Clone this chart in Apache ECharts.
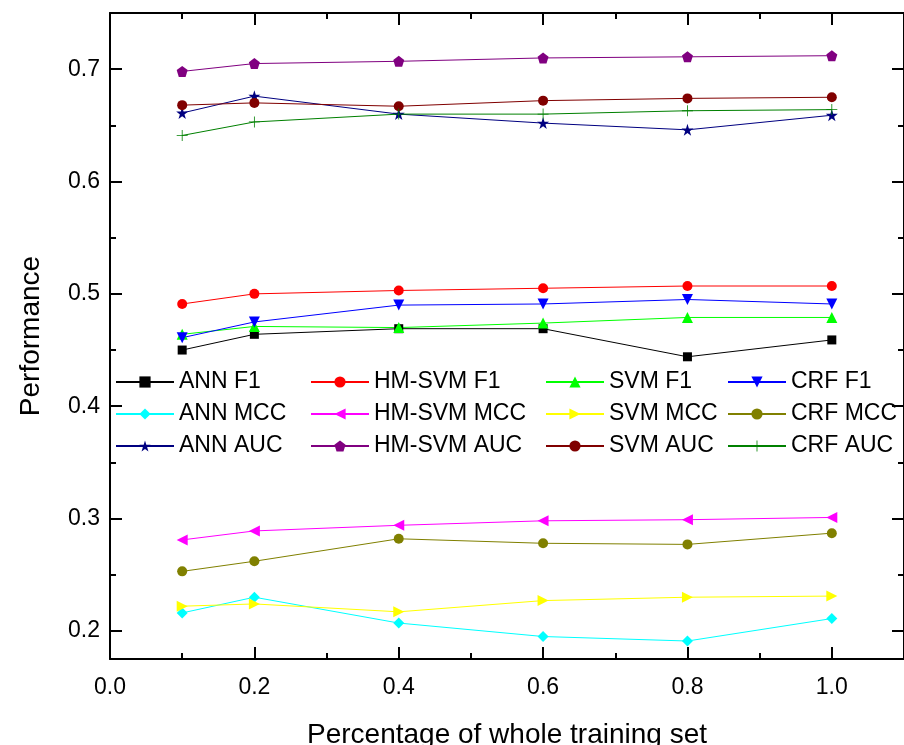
<!DOCTYPE html>
<html>
<head>
<meta charset="utf-8">
<script src="https://cdn.jsdelivr.net/npm/echarts@6/dist/echarts.min.js"></script>
<style>
html, body { margin: 0; padding: 0; background: #fff; }
#chart { width: 904px; height: 745px; }
</style>
</head>
<body>
<div id="chart"></div>
<script>
'use strict';

// fraction of the training set used (x)
var fractions = [0.1, 0.2, 0.4, 0.6, 0.8, 1.0];

// F1
var annF1 = [0.450, 0.464, 0.469, 0.469, 0.444, 0.459];
var hmSvmF1 = [0.491, 0.500, 0.503, 0.505, 0.507, 0.507];
var svmF1 = [0.464, 0.471, 0.470, 0.474, 0.479, 0.479];
var crfF1 = [0.461, 0.475, 0.490, 0.491, 0.495, 0.491];

// MCC
var annMcc = [0.216, 0.230, 0.207, 0.195, 0.191, 0.211];
var hmSvmMcc = [0.281, 0.289, 0.294, 0.298, 0.299, 0.301];
var svmMcc = [0.222, 0.224, 0.217, 0.227, 0.230, 0.231];
var crfMcc = [0.253, 0.262, 0.282, 0.278, 0.277, 0.287];

// AUC
var annAuc = [0.661, 0.676, 0.660, 0.652, 0.646, 0.659];
var hmSvmAuc = [0.698, 0.705, 0.707, 0.710, 0.711, 0.712];
var svmAuc = [0.668, 0.670, 0.667, 0.672, 0.674, 0.675];
var crfAuc = [0.641, 0.653, 0.660, 0.660, 0.663, 0.664];

// tick labels
var xMajor = [0.0, 0.2, 0.4, 0.6, 0.8, 1.0];
var xMinor = [0.1, 0.3, 0.5, 0.7, 0.9];
var yMajor = [0.2, 0.3, 0.4, 0.5, 0.6, 0.7];
var yMinor = [0.25, 0.35, 0.45, 0.55, 0.65];

var FONT = '"Liberation Sans", Arial, sans-serif';
var STAR = 'path://M50,0L61.8,35.4L100,35.4L69.1,57.3L80.9,92.7L50,70.8L19.1,92.7L30.9,57.3L0,35.4L38.2,35.4Z';
var PENTAGON = 'path://M50,0L100,36.3L80.9,95.1L19.1,95.1L0,36.3Z';
var PLUS = 'path://M9,0h1.4v9h9v1.4h-9v9h-1.4v-9h-9v-1.4h9z';

var seriesDefs = [
    {name: 'ANN F1', data: annF1, color: '#000000', symbol: 'rect', size: 9},
    {name: 'HM-SVM F1', data: hmSvmF1, color: '#ff0000', symbol: 'circle', size: 10},
    {name: 'SVM F1', data: svmF1, color: '#00ff00', symbol: 'triangle', size: 11},
    {name: 'CRF F1', data: crfF1, color: '#0000ff', symbol: 'triangle', size: 11, rotate: 180},
    {name: 'ANN MCC', data: annMcc, color: '#00ffff', symbol: 'diamond', size: 11},
    {name: 'HM-SVM MCC', data: hmSvmMcc, color: '#ff00ff', symbol: 'triangle', size: 11, rotate: 90},
    {name: 'SVM MCC', data: svmMcc, color: '#ffff00', symbol: 'triangle', size: 11, rotate: -90},
    {name: 'CRF MCC', data: crfMcc, color: '#808000', symbol: 'circle', size: 10},
    {name: 'ANN AUC', data: annAuc, color: '#000080', symbol: STAR, size: 12},
    {name: 'HM-SVM AUC', data: hmSvmAuc, color: '#800080', symbol: PENTAGON, size: 11},
    {name: 'SVM AUC', data: svmAuc, color: '#800000', symbol: 'circle', size: 10},
    {name: 'CRF AUC', data: crfAuc, color: '#008000', symbol: PLUS, size: 11}
];

var chart = echarts.init(document.getElementById('chart'));

function fmt(v) {
    return v.toFixed(1);
}

// one axis that only draws ticks at the given values
function tickAxis(position, min, max, values, len, showLine) {
    return {
        type: 'value',
        position: position,
        min: min,
        max: max,
        axisLine: {show: showLine, onZero: false, lineStyle: {color: '#000', width: 2}},
        axisTick: {show: true, inside: true, length: len, customValues: values,
            lineStyle: {color: '#000', width: 2}},
        axisLabel: {show: false},
        splitLine: {show: false}
    };
}

var xMain = tickAxis('bottom', 0, 1.1, xMajor, 12, true);
xMain.axisLabel = {show: true, customValues: xMajor, formatter: fmt, color: '#000',
    fontSize: 23, fontFamily: FONT, margin: 17};
xMain.name = 'Percentage of whole training set';
xMain.nameLocation = 'middle';
xMain.nameGap = 62;
xMain.nameTextStyle = {color: '#000', fontSize: 28, fontFamily: FONT};

var yMain = tickAxis('left', 0.175, 0.75, yMajor, 12, true);
yMain.axisLabel = {show: true, customValues: yMajor, formatter: fmt, color: '#000',
    fontSize: 23, fontFamily: FONT, margin: 10};
yMain.name = 'Performance';
yMain.nameLocation = 'middle';
yMain.nameGap = 65;
yMain.nameTextStyle = {color: '#000', fontSize: 28, fontFamily: FONT};

var legendCols = [
    {left: 115, names: ['ANN F1', 'ANN MCC', 'ANN AUC']},
    {left: 310, names: ['HM-SVM F1', 'HM-SVM MCC', 'HM-SVM AUC']},
    {left: 545, names: ['SVM F1', 'SVM MCC', 'SVM AUC']},
    {left: 727, names: ['CRF F1', 'CRF MCC', 'CRF AUC']}
];

chart.setOption({
    animation: false,
    backgroundColor: '#fff',
    grid: {left: 110, top: 13, width: 794, height: 646, containLabel: false,
        outerBoundsMode: 'none'},
    xAxis: [
        xMain,
        tickAxis('bottom', 0, 1.1, xMinor, 6, false),
        tickAxis('top', 0, 1.1, xMajor, 12, true),
        tickAxis('top', 0, 1.1, xMinor, 6, false)
    ],
    yAxis: [
        yMain,
        tickAxis('left', 0.175, 0.75, yMinor, 6, false),
        tickAxis('right', 0.175, 0.75, yMajor, 12, true),
        tickAxis('right', 0.175, 0.75, yMinor, 6, false)
    ],
    legend: legendCols.map(function (col) {
        return {
            data: col.names,
            orient: 'vertical',
            left: col.left,
            top: 370,
            itemWidth: 58,
            itemHeight: 14,
            itemGap: 8,
            padding: 0,
            textStyle: {color: '#000', fontSize: 23, fontFamily: FONT, lineHeight: 24}
        };
    }),
    series: seriesDefs.map(function (d) {
        return {
            name: d.name,
            type: 'line',
            xAxisIndex: 0,
            yAxisIndex: 0,
            data: fractions.map(function (x, i) { return [x, d.data[i]]; }),
            symbol: d.symbol,
            symbolSize: d.size,
            symbolRotate: d.rotate || 0,
            showAllSymbol: true,
            lineStyle: {color: d.color, width: 1},
            itemStyle: {color: d.color}
        };
    })
});
</script>
</body>
</html>
